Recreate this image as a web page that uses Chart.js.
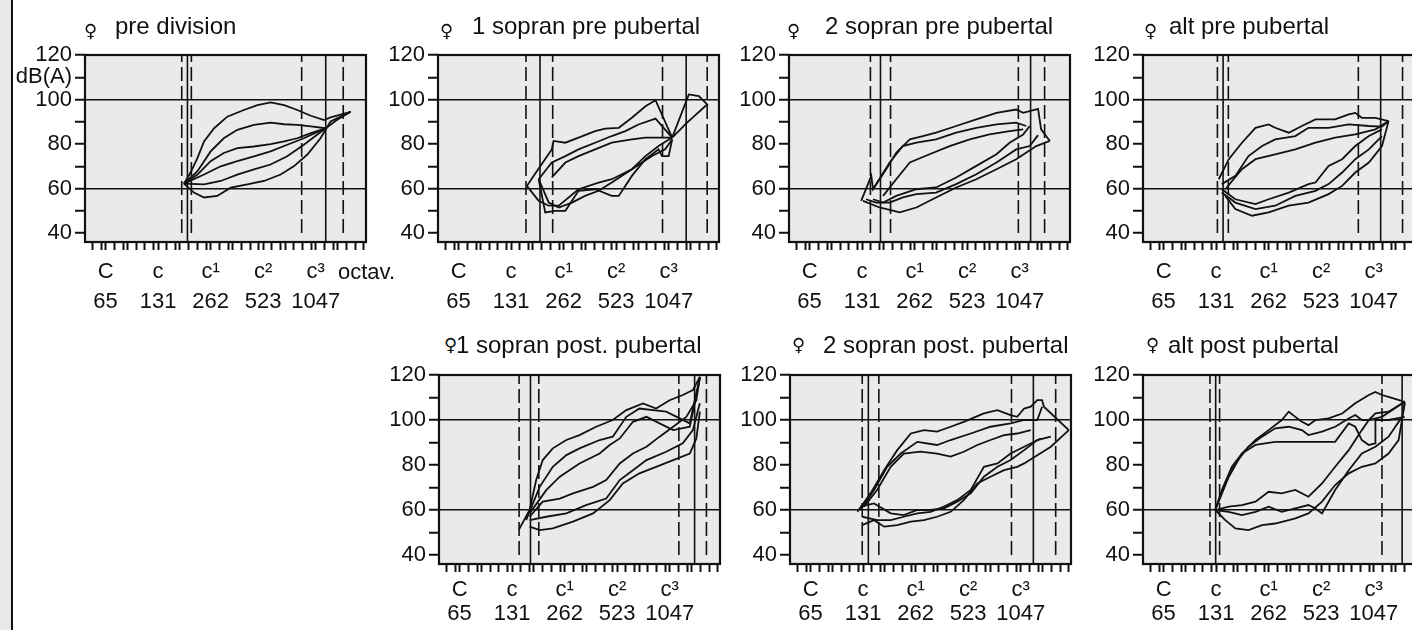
<!DOCTYPE html>
<html lang="de">
<head>
<meta charset="UTF-8">
<title>Stimmfelder</title>
<script src="https://cdn.jsdelivr.net/npm/chart.js@4.4.0/dist/chart.umd.min.js"></script>
<style>
  html, body { margin: 0; padding: 0; background: #fff; overflow: hidden; }
  body { width: 1412px; height: 630px; position: relative; font-family: "Liberation Sans", Arial, sans-serif; color: #000; }
  .frame { position: absolute; left: 0; top: 0; width: 11px; height: 630px; background: #e8e8e8; border-right: 2px solid #111; }
  canvas { position: absolute; }
  .title { position: absolute; font-size: 24px; line-height: 24px; white-space: nowrap; color: #111; }
  .sym { position: absolute; font-family: "DejaVu Sans", sans-serif; font-size: 18px; line-height: 18px; font-weight: bold; color: #111; }
  .extra { position: absolute; font-size: 22px; line-height: 22px; white-space: nowrap; color: #111; }
</style>
</head>
<body>
<div class="frame"></div>
<script>
// x = semitones above C (65 Hz), y = dB(A)
const noteTicks = [0, 12, 24, 36, 48];
const noteNames = ['C', 'c', 'c¹', 'c²', 'c³'];
const noteHz = ['65', '131', '262', '523', '1047'];
const whiteKeys = [-3, -1, 0, 2, 4, 5, 7, 9, 11, 12, 14, 16, 17, 19, 21, 23, 24, 26, 28, 29, 31, 33, 35,
                   36, 38, 40, 41, 43, 45, 47, 48, 50, 52, 53, 55, 57, 59];
const dbTicks = [40, 50, 60, 70, 80, 90, 100, 110, 120];
const dbLines = [60, 100];

const titles = ['pre division', '1 sopran pre pubertal', '2 sopran pre pubertal', 'alt pre pubertal',
                '1 sopran post. pubertal', '2 sopran post. pubertal', 'alt post pubertal'];

// lowest / highest pitch: [dashed, solid, dashed]
const preDivisionLow = [17.4, 18.7, 19.6], preDivisionHigh = [44.8, 50.3, 54.3];
const sop1PreLow = [15.4, 18.6, 21.5], sop1PreHigh = [46.6, 52.0, 56.8];
const sop2PreLow = [13.9, 16.2, 18.5], sop2PreHigh = [47.7, 50.5, 53.7];
const altPreLow = [12.3, 13.6, 14.8], altPreHigh = [44.5, 49.6, 54.6];
const sop1PostLow = [13.6, 16.2, 18.1], sop1PostHigh = [50.1, 53.7, 56.4];
const sop2PostLow = [11.8, 13.2, 15.6], sop2PostHigh = [45.9, 50.9, 56.0];
const altPostLow = [10.6, 11.9, 12.8], altPostHigh = [49.9, 54.5, 58.5];

const preDivisionCurves = [
  [[17.9,62.2],[19.4,67.1],[21.0,73.8],[22.5,81.2],[24.8,87.1],[27.8,92.3],[31.6,95.3],[34.7,97.5],[37.7,98.7],[40.8,97.5],[43.8,95.3],[46.9,92.7],[49.9,90.8],[51.4,92.0],[56.0,94.5]],
  [[17.9,62.2],[21.0,67.8],[24.0,76.7],[27.0,82.6],[30.1,86.4],[33.9,88.6],[37.7,89.6],[40.8,88.9],[43.8,88.6],[46.9,87.9],[50.3,87.1],[53.0,91.0],[56.0,94.5]],
  [[17.9,62.2],[21.0,66.3],[24.0,72.3],[27.0,76.0],[30.1,78.2],[33.9,78.9],[37.7,80.0],[40.8,81.2],[43.8,82.6],[46.9,84.9],[50.3,87.1]],
  [[17.9,62.2],[22.5,66.3],[26.3,70.0],[30.1,72.3],[33.9,74.5],[37.7,76.7],[41.5,79.7],[45.3,82.6],[50.3,87.1]],
  [[17.9,62.2],[22.5,61.9],[26.3,63.4],[30.1,66.3],[33.9,68.6],[37.7,70.8],[41.5,74.5],[45.3,79.7],[50.3,87.1]],
  [[17.9,62.2],[20.2,58.2],[22.5,56.0],[25.5,56.7],[28.6,60.4],[32.4,61.9],[36.2,63.4],[40.0,66.3],[43.0,70.0],[46.1,75.3],[49.1,82.6],[51.4,90.1],[56.0,94.5]]
];
const sop1PreCurves = [
  [[15.6,61.2],[18.3,69.0],[21.3,77.6],[21.7,81.4],[24.4,80.6],[27.4,82.9],[31.2,85.8],[33.5,86.9],[36.6,87.3],[39.6,91.8],[42.7,97.0],[45.0,99.7],[48.8,82.9]],
  [[18.3,64.2],[21.3,71.7],[24.4,74.6],[27.4,77.6],[31.2,80.6],[35.0,83.6],[38.1,85.8],[41.1,88.8],[45.0,91.4],[48.8,82.9]],
  [[21.3,65.0],[24.4,71.7],[27.4,74.6],[31.2,77.6],[35.0,80.6],[39.6,82.1],[42.7,82.9],[46.5,82.9],[48.8,82.9]],
  [[18.3,64.2],[20.6,53.7],[22.9,51.5],[25.9,53.7],[28.9,56.7],[32.0,59.0],[35.0,62.7],[39.6,68.7],[42.7,74.6],[45.7,79.1],[48.8,82.9]],
  [[18.3,64.2],[19.8,49.3],[22.1,50.0],[24.4,50.0],[27.4,59.0],[31.2,59.7],[35.0,56.7],[36.6,56.7],[39.6,65.7],[42.7,73.2],[45.7,77.6],[46.5,74.6],[48.0,74.6],[48.8,82.1]],
  [[15.6,61.2],[18.3,54.5],[20.6,52.3],[22.9,52.3],[27.4,59.7],[32.0,62.7],[35.0,64.2],[39.6,68.7],[44.2,74.6],[47.2,77.6],[48.8,82.1]],
  [[48.8,82.9],[52.6,102.3],[54.9,101.5],[56.8,97.8],[52.2,89.6],[48.8,82.9]]
];
const sop2PreCurves = [
  [[11.8,54.5],[14.1,65.7],[14.5,59.7],[17.5,68.7],[19.8,76.1],[22.9,82.1],[25.9,83.6],[28.9,85.1],[33.5,88.1],[38.1,91.1],[42.7,94.0],[47.2,95.5],[48.8,94.0],[52.2,95.8],[52.9,86.6],[54.9,81.4]],
  [[14.5,59.7],[18.3,71.7],[21.3,79.1],[24.4,80.6],[28.9,82.1],[33.5,85.1],[38.1,87.3],[42.7,88.8],[47.2,89.6],[49.5,88.1]],
  [[16.8,56.7],[19.8,64.2],[22.9,71.7],[27.4,75.4],[32.0,79.1],[36.6,82.1],[41.1,84.3],[45.7,85.8],[48.8,86.6]],
  [[14.5,55.2],[16.8,53.7],[19.8,56.7],[24.4,59.7],[28.9,60.5],[33.5,65.0],[38.1,70.2],[42.7,75.4],[45.7,80.6],[48.8,84.3],[50.3,88.1]],
  [[12.9,55.2],[15.2,53.7],[18.3,53.7],[21.3,56.0],[24.4,57.5],[28.9,58.2],[33.5,62.0],[38.1,66.4],[42.7,71.7],[47.2,77.6],[50.3,79.1],[52.2,84.0]],
  [[12.2,54.5],[16.0,51.5],[20.6,49.3],[24.4,51.5],[28.9,56.0],[33.5,60.5],[38.1,64.2],[42.7,68.7],[47.2,73.2],[51.8,79.1],[54.9,81.4]]
];
const altPreCurves = [
  [[12.6,64.2],[14.9,73.2],[17.9,80.6],[21.0,87.3],[24.0,88.8],[25.5,87.3],[28.6,85.1],[31.6,88.1],[34.7,91.1],[39.2,91.1],[42.3,93.3],[43.8,94.0],[45.3,91.8],[48.4,91.8],[51.4,90.3]],
  [[13.3,62.0],[16.4,65.7],[19.4,74.6],[22.5,79.1],[25.5,82.1],[30.1,83.6],[33.1,87.3],[37.7,87.3],[42.3,88.8],[46.9,88.1],[49.9,87.8],[51.4,90.3]],
  [[14.1,59.7],[17.9,68.7],[21.0,73.2],[25.5,75.4],[30.1,77.6],[34.7,80.6],[39.2,82.9],[43.8,84.3],[48.4,86.6],[51.4,90.3]],
  [[13.3,59.7],[16.4,55.2],[21.0,53.0],[24.0,55.2],[28.6,58.2],[33.1,62.0],[34.7,62.7],[37.7,70.2],[40.8,73.2],[43.8,79.1],[46.9,83.6],[49.9,86.6]],
  [[13.3,58.2],[16.4,53.7],[21.0,50.8],[25.5,52.3],[30.1,56.7],[34.7,59.0],[37.7,62.0],[40.8,67.2],[43.8,73.2],[46.9,77.6],[49.9,83.6]],
  [[14.1,56.7],[16.4,50.8],[20.2,47.8],[24.0,49.3],[28.6,52.3],[33.1,53.7],[37.7,57.5],[40.8,61.2],[43.8,67.2],[46.9,71.7],[49.9,79.1],[51.4,90.3]]
];
const sop1PostCurves = [
  [[13.6,51.4],[16.0,60.0],[17.5,73.3],[19.0,82.2],[21.3,87.4],[24.4,91.1],[27.4,93.3],[31.2,97.0],[35.0,100.0],[38.1,104.4],[41.9,107.4],[44.9,105.1],[48.0,108.8],[51.0,111.1],[53.3,113.3],[54.9,119.2]],
  [[15.2,55.5],[18.3,70.3],[21.3,79.2],[24.4,84.4],[27.4,87.4],[32.0,91.1],[35.0,92.6],[38.1,101.4],[41.1,105.1],[44.2,104.4],[47.2,103.7],[50.3,100.7],[52.6,98.5],[54.9,119.2]],
  [[16.0,58.5],[19.8,68.8],[22.9,74.8],[27.4,80.7],[32.0,85.1],[34.3,88.9],[36.6,91.8],[39.6,99.2],[42.7,101.4],[45.7,98.5],[48.8,95.5],[52.6,97.0],[54.9,118.5]],
  [[16.0,57.0],[19.0,63.7],[22.9,65.1],[25.9,67.4],[30.5,70.3],[33.5,73.3],[36.6,80.7],[39.6,85.1],[42.7,88.1],[45.7,92.6],[48.8,97.0],[51.8,101.4],[54.1,108.8],[54.9,119.2]],
  [[16.0,55.5],[19.8,57.0],[24.4,58.5],[28.9,62.2],[33.5,65.1],[36.6,73.3],[39.6,77.7],[42.7,82.2],[47.2,85.9],[51.0,89.6],[53.3,95.5],[54.9,107.4]],
  [[16.0,52.6],[18.3,51.1],[21.3,51.8],[25.9,54.8],[30.5,58.5],[34.3,64.4],[37.3,71.8],[41.1,76.3],[44.9,79.2],[48.8,82.2],[52.6,85.1],[54.1,91.8],[54.9,103.7]]
];
const sop2PostCurves = [
  [[10.7,59.2],[13.7,67.4],[16.8,77.7],[19.8,86.6],[22.9,94.0],[25.9,95.5],[28.9,94.8],[32.0,97.0],[35.0,99.2],[39.6,102.9],[42.7,104.4],[45.7,102.2],[47.2,101.4],[48.8,105.1],[50.3,105.9],[51.8,108.8],[52.9,108.8],[53.3,105.9],[59.0,95.5]],
  [[11.4,60.0],[14.5,68.9],[17.5,79.2],[20.6,85.1],[24.4,90.3],[28.9,88.9],[32.0,91.1],[36.6,94.0],[41.1,97.0],[45.7,98.5],[48.8,100.0],[51.8,100.0],[52.9,105.9]],
  [[12.2,61.5],[15.2,68.9],[18.3,79.2],[21.3,85.1],[25.1,85.9],[28.9,85.1],[32.0,83.7],[35.0,85.9],[38.1,88.9],[41.1,91.1],[44.2,93.3],[47.2,94.0],[50.3,95.5]],
  [[11.4,61.5],[14.5,62.9],[18.3,58.5],[21.3,57.7],[24.4,60.0],[27.4,60.0],[30.5,60.7],[33.5,63.7],[36.6,67.4],[39.6,74.8],[42.7,79.2],[45.7,82.2],[48.8,86.6],[51.8,91.1],[54.9,92.6]],
  [[11.8,57.0],[15.2,55.5],[18.3,55.5],[21.3,57.0],[24.4,58.5],[27.4,59.2],[30.5,61.5],[33.5,64.4],[36.6,68.9],[39.6,79.2],[42.7,80.7],[45.7,85.1],[48.8,88.1],[52.6,91.8]],
  [[11.8,53.3],[14.5,55.5],[16.8,52.6],[19.8,53.3],[22.9,54.8],[25.9,55.5],[28.9,57.0],[32.0,59.2],[35.0,64.4],[38.1,71.8],[41.1,74.8],[44.2,77.7],[47.2,79.2],[48.8,80.7],[54.9,88.1],[59.0,95.5]]
];
const altPostCurves = [
  [[11.8,60.0],[13.3,68.9],[15.6,79.2],[17.9,85.1],[21.0,91.1],[24.0,95.5],[27.0,100.0],[28.6,103.7],[30.1,101.4],[31.6,99.2],[33.1,97.7],[34.7,100.0],[37.7,100.7],[40.8,102.9],[43.8,107.4],[46.9,111.1],[48.4,112.5],[49.9,111.1],[51.4,110.3],[55.1,108.1]],
  [[11.8,60.0],[14.1,71.8],[16.4,80.7],[19.4,88.1],[22.5,92.6],[25.5,96.3],[28.6,97.0],[31.6,95.5],[33.1,93.3],[36.2,94.8],[39.2,97.0],[42.3,100.7],[43.8,102.2],[45.3,100.0],[46.9,100.0],[48.4,102.9],[51.4,103.7],[55.1,108.1]],
  [[11.8,60.0],[14.9,74.8],[17.9,85.1],[21.0,88.9],[25.5,90.3],[30.1,90.3],[34.7,90.3],[39.2,90.3],[42.3,98.5],[43.8,97.0],[45.3,91.1],[46.9,88.9],[48.4,89.6],[48.4,100.0],[51.4,100.0],[55.1,101.4]],
  [[11.8,60.0],[14.9,61.5],[17.9,62.2],[21.0,63.7],[24.0,68.1],[27.0,67.4],[30.1,68.9],[33.1,65.9],[36.2,71.8],[39.2,79.2],[42.3,86.6],[45.3,95.5],[46.9,100.0],[49.9,101.4],[55.1,108.1]],
  [[11.8,60.0],[14.9,59.2],[17.9,57.7],[21.0,59.2],[24.0,61.5],[27.0,59.2],[30.1,60.7],[33.1,62.2],[34.7,60.7],[36.2,58.5],[39.2,68.9],[42.3,77.7],[45.3,85.1],[48.4,88.1],[51.4,92.6],[54.5,101.4],[55.1,108.1]],
  [[11.8,60.0],[14.1,55.5],[16.4,51.8],[19.4,51.1],[22.5,53.3],[25.5,54.0],[28.6,55.5],[30.1,56.3],[33.1,58.5],[36.2,63.7],[39.2,71.1],[42.3,76.3],[45.3,79.2],[48.4,80.7],[51.4,85.1],[53.7,91.1],[55.1,107.4]]
];

// page layout (pixels)
const PLOT_W = 281, AXIS_W = 70, PAD_TOP = 20, AXIS_H = 80, PAD_R = 12;
const TOP_ROW = { top: 55, h: 187, baseY: 34, symY: 31, lh: 1.35, pad: 7 };
const BOT_ROW = { top: 375, h: 189, baseY: 353, symY: 345, lh: 1.08, pad: 6 };
const panels = [
  { curves: preDivisionCurves, low: preDivisionLow, high: preDivisionHigh, left: 85, row: TOP_ROW, symX: 84, textX: 115, unit: true },
  { curves: sop1PreCurves, low: sop1PreLow, high: sop1PreHigh, left: 438, row: TOP_ROW, symX: 440, textX: 472 },
  { curves: sop2PreCurves, low: sop2PreLow, high: sop2PreHigh, left: 789, row: TOP_ROW, symX: 787, textX: 825 },
  { curves: altPreCurves, low: altPreLow, high: altPreHigh, left: 1143, row: TOP_ROW, symX: 1144, textX: 1169 },
  { curves: sop1PostCurves, low: sop1PostLow, high: sop1PostHigh, left: 439, row: BOT_ROW, symX: 444, textX: 456 },
  { curves: sop2PostCurves, low: sop2PostLow, high: sop2PostHigh, left: 790, row: BOT_ROW, symX: 792, textX: 823 },
  { curves: altPostCurves, low: altPostLow, high: altPostHigh, left: 1143, row: BOT_ROW, symX: 1146, textX: 1168 }
];

const INK = '#111';
const FONT = '"Liberation Sans", Arial, sans-serif';

const panelFrame = {
  id: 'panelFrame',
  beforeDraw(chart) {
    const a = chart.chartArea, c = chart.ctx;
    c.save();
    c.fillStyle = '#eaeaea';
    c.fillRect(a.left, a.top, a.right - a.left, a.bottom - a.top);
    c.restore();
  },
  afterDraw(chart) {
    const a = chart.chartArea, c = chart.ctx;
    c.save();
    c.strokeStyle = INK;
    c.lineWidth = 2.2;
    c.strokeRect(a.left, a.top, a.right - a.left, a.bottom - a.top);
    c.restore();
  }
};

function limitSet(vals) {
  return vals.map((v, i) => ({
    data: i === 1 ? [{ x: v, y: 36 }, { x: v, y: 120 }] : [{ x: v, y: 40 }, { x: v, y: 120 }],
    showLine: true, pointRadius: 0, borderColor: INK, borderWidth: 1.6,
    borderDash: i === 1 ? [] : [14, 5]
  }));
}

panels.forEach((p, n) => {
  const r = p.row;
  const cv = document.createElement('canvas');
  cv.width = AXIS_W + PLOT_W + PAD_R;
  cv.height = PAD_TOP + r.h + AXIS_H;
  cv.style.left = (p.left - AXIS_W) + 'px';
  cv.style.top = (r.top - PAD_TOP) + 'px';
  document.body.appendChild(cv);

  const sym = document.createElement('div');
  sym.className = 'sym';
  sym.textContent = '♀';
  sym.style.left = p.symX + 'px';
  sym.style.top = (r.symY - 9) + 'px';
  document.body.appendChild(sym);

  const t = document.createElement('div');
  t.className = 'title';
  t.textContent = titles[n];
  t.style.left = p.textX + 'px';
  t.style.top = (r.baseY - 20) + 'px';
  document.body.appendChild(t);

  const datasets = p.curves.map(c => ({
    data: c.map(([x, y]) => ({ x, y })),
    showLine: true, pointRadius: 0, borderColor: INK, borderWidth: 1.8, tension: 0
  })).concat(limitSet(p.low), limitSet(p.high));

  new Chart(cv, {
    type: 'scatter',
    data: { datasets },
    options: {
      responsive: false,
      animation: false,
      layout: { padding: { top: PAD_TOP, right: PAD_R, left: 0, bottom: 0 } },
      plugins: { legend: { display: false }, tooltip: { enabled: false } },
      scales: {
        x: {
          type: 'linear', min: -4.7, max: 59.5,
          afterBuildTicks: s => { s.ticks = whiteKeys.map(v => ({ value: v })); },
          afterFit: s => { s.height = AXIS_H; },
          border: { display: false },
          grid: { drawOnChartArea: false, drawTicks: true, tickLength: 8, tickColor: INK, tickWidth: 2 },
          ticks: {
            autoSkip: false, maxRotation: 0, minRotation: 0, padding: r.pad, color: '#111',
            font: { family: FONT, size: 22, lineHeight: r.lh },
            callback: v => {
              const i = noteTicks.indexOf(v);
              return i < 0 ? '' : [noteNames[i], noteHz[i]];
            }
          }
        },
        y: {
          type: 'linear', min: 36, max: 120,
          afterBuildTicks: s => { s.ticks = dbTicks.map(v => ({ value: v })); },
          afterFit: s => { s.width = AXIS_W; },
          border: { display: false },
          grid: {
            color: c => (c.tick && dbLines.includes(c.tick.value)) ? INK : 'rgba(0,0,0,0)',
            lineWidth: 1.5, tickLength: 10, tickColor: INK, tickWidth: 2
          },
          ticks: {
            autoSkip: false, padding: 3, color: '#111',
            font: { family: FONT, size: 22, lineHeight: 1 },
            callback: v => (v % 20 === 0) ? String(v) : (p.unit && v === 110 ? 'dB(A)' : '')
          }
        }
      }
    },
    plugins: [panelFrame]
  });
});

const oct = document.createElement('div');
oct.className = 'extra';
oct.textContent = 'octav.';
oct.style.left = '338px';
oct.style.top = '261px';
document.body.appendChild(oct);
</script>
</body>
</html>
